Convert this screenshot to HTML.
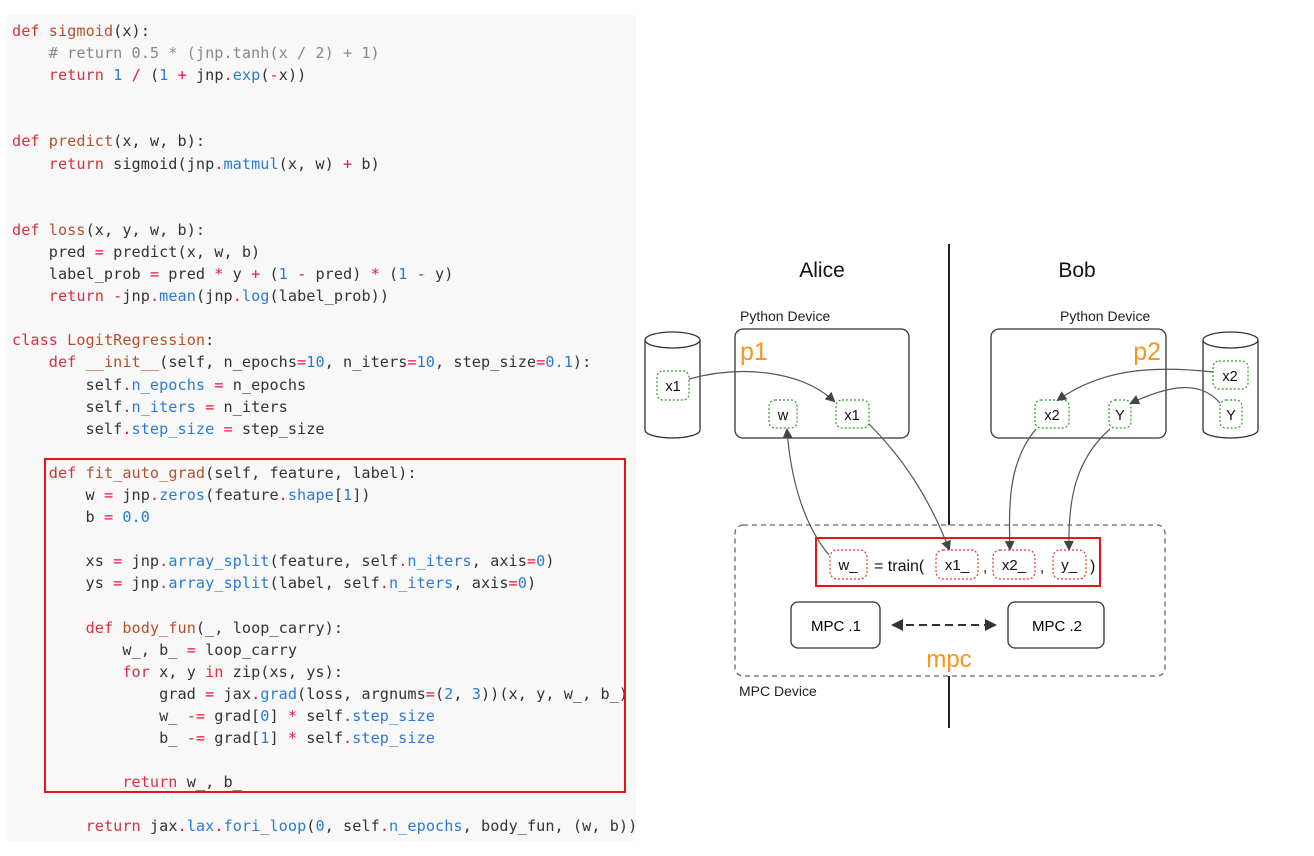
<!DOCTYPE html>
<html><head><meta charset="utf-8"><style>
body{margin:0;width:1314px;height:856px;background:#fff;overflow:hidden;position:relative;font-family:"Liberation Sans",sans-serif}
#code{position:absolute;left:6px;top:15px;width:630px;height:826px;background:#f8f8f8}
pre{position:absolute;left:12px;top:20px;margin:0;font-family:"DejaVu Sans Mono","Liberation Mono",monospace;font-size:15.2px;line-height:22.1px;color:#333;letter-spacing:0.05px}
.k{color:#d7303f}.f{color:#b4512a}.b{color:#2b7bd4}.o{color:#e8163a}.c{color:#888}
#rb{position:absolute;left:44px;top:458px;width:578px;height:331px;border:2px solid #e8141c}
</style></head><body>
<div id="code"></div>
<pre><span class="k">def</span> <span class="f">sigmoid</span>(x):
    <span class="c"># return 0.5 * (jnp.tanh(x / 2) + 1)</span>
    <span class="k">return</span> <span class="b">1</span> <span class="o">/</span> (<span class="b">1</span> <span class="o">+</span> jnp<span class="o">.</span><span class="b">exp</span>(<span class="o">-</span>x))


<span class="k">def</span> <span class="f">predict</span>(x, w, b):
    <span class="k">return</span> sigmoid(jnp<span class="o">.</span><span class="b">matmul</span>(x, w) <span class="o">+</span> b)


<span class="k">def</span> <span class="f">loss</span>(x, y, w, b):
    pred <span class="o">=</span> predict(x, w, b)
    label_prob <span class="o">=</span> pred <span class="o">*</span> y <span class="o">+</span> (<span class="b">1</span> <span class="o">-</span> pred) <span class="o">*</span> (<span class="b">1</span> <span class="o">-</span> y)
    <span class="k">return</span> <span class="o">-</span>jnp<span class="o">.</span><span class="b">mean</span>(jnp<span class="o">.</span><span class="b">log</span>(label_prob))

<span class="k">class</span> <span class="f">LogitRegression</span>:
    <span class="k">def</span> <span class="f">__init__</span>(self, n_epochs<span class="o">=</span><span class="b">10</span>, n_iters<span class="o">=</span><span class="b">10</span>, step_size<span class="o">=</span><span class="b">0.1</span>):
        self<span class="o">.</span><span class="b">n_epochs</span> <span class="o">=</span> n_epochs
        self<span class="o">.</span><span class="b">n_iters</span> <span class="o">=</span> n_iters
        self<span class="o">.</span><span class="b">step_size</span> <span class="o">=</span> step_size

    <span class="k">def</span> <span class="f">fit_auto_grad</span>(self, feature, label):
        w <span class="o">=</span> jnp<span class="o">.</span><span class="b">zeros</span>(feature<span class="o">.</span><span class="b">shape</span>[<span class="b">1</span>])
        b <span class="o">=</span> <span class="b">0.0</span>

        xs <span class="o">=</span> jnp<span class="o">.</span><span class="b">array_split</span>(feature, self<span class="o">.</span><span class="b">n_iters</span>, axis<span class="o">=</span><span class="b">0</span>)
        ys <span class="o">=</span> jnp<span class="o">.</span><span class="b">array_split</span>(label, self<span class="o">.</span><span class="b">n_iters</span>, axis<span class="o">=</span><span class="b">0</span>)

        <span class="k">def</span> <span class="f">body_fun</span>(_, loop_carry):
            w_, b_ <span class="o">=</span> loop_carry
            <span class="k">for</span> x, y <span class="k">in</span> zip(xs, ys):
                grad <span class="o">=</span> jax<span class="o">.</span><span class="b">grad</span>(loss, argnums<span class="o">=</span>(<span class="b">2</span>, <span class="b">3</span>))(x, y, w_, b_)
                w_ <span class="o">-=</span> grad[<span class="b">0</span>] <span class="o">*</span> self<span class="o">.</span><span class="b">step_size</span>
                b_ <span class="o">-=</span> grad[<span class="b">1</span>] <span class="o">*</span> self<span class="o">.</span><span class="b">step_size</span>

            <span class="k">return</span> w_, b_

        <span class="k">return</span> jax<span class="o">.</span><span class="b">lax</span><span class="o">.</span><span class="b">fori_loop</span>(<span class="b">0</span>, self<span class="o">.</span><span class="b">n_epochs</span>, body_fun, (w, b))</pre>
<div id="rb"></div>
<div style="position:absolute;left:636px;top:0;width:678px;height:856px;background:#fff"></div>

<svg width="1314" height="856" style="position:absolute;left:0;top:0" font-family="Liberation Sans, sans-serif">
<defs><marker id="a" markerWidth="10" markerHeight="10" refX="8" refY="5" orient="auto" markerUnits="userSpaceOnUse"><path d="M0,0 L10,5 L0,10 z" fill="#444"/></marker>
<marker id="a2" markerWidth="12" markerHeight="12" refX="10" refY="6" orient="auto-start-reverse" markerUnits="userSpaceOnUse"><path d="M0,0 L12,6 L0,12 z" fill="#333"/></marker></defs>
<line x1="949" y1="244" x2="949" y2="728" stroke="#222" stroke-width="2"/>
<rect x="735" y="525" width="430" height="151" rx="8" fill="#fff" stroke="#666" stroke-width="1.3" stroke-dasharray="5,4"/>
<text x="822" y="277" font-size="21" text-anchor="middle" fill="#111">Alice</text>
<text x="1077" y="277" font-size="21" text-anchor="middle" fill="#111">Bob</text>
<text x="740" y="321" font-size="14" fill="#222">Python Device</text>
<text x="1060" y="321" font-size="14" fill="#222">Python Device</text>
<rect x="735" y="329" width="174" height="109" rx="8" fill="none" stroke="#333" stroke-width="1.3"/>
<rect x="991" y="329" width="175" height="109" rx="8" fill="none" stroke="#333" stroke-width="1.3"/>
<text x="740" y="360" font-size="25" fill="#f7931e">p1</text>
<text x="1161" y="360" font-size="25" fill="#f7931e" text-anchor="end">p2</text>
<g fill="#fff" stroke="#333" stroke-width="1.3">
<path d="M645,340 L645,430 A27.5,8 0 0 0 700,430 L700,340"/><ellipse cx="672.5" cy="340" rx="27.5" ry="8"/>
<path d="M1203,340 L1203,430 A27.5,8 0 0 0 1258,430 L1258,340"/><ellipse cx="1230.5" cy="340" rx="27.5" ry="8"/>
</g>
<g fill="#fff" stroke="#2a9d2a" stroke-width="1.2" stroke-dasharray="2,2">
<rect x="657" y="371" width="32" height="29" rx="6"/>
<rect x="769" y="400" width="28" height="28" rx="6"/>
<rect x="836" y="400" width="33" height="28" rx="6"/>
<rect x="1035" y="400" width="34" height="28" rx="6"/>
<rect x="1109" y="400" width="22" height="28" rx="6"/>
<rect x="1213" y="361" width="35" height="28" rx="6"/>
<rect x="1220" y="400" width="22" height="28" rx="6"/>
</g>
<g font-size="14.5" text-anchor="middle" fill="#111">
<text x="673" y="391">x1</text><text x="783" y="420">w</text><text x="852" y="420">x1</text>
<text x="1052" y="420">x2</text><text x="1120" y="420">Y</text><text x="1230" y="381">x2</text><text x="1231" y="420">Y</text>
</g>
<g fill="none" stroke="#555" stroke-width="1.2" marker-end="url(#a)">
<path d="M689,379 C740,365 800,370 834,401"/>
<path d="M1213,372 C1150,365 1100,370 1058,400"/>
<path d="M1220,403 C1200,380 1170,385 1131,403"/>
<path d="M829,555 C800,520 790,470 787,430"/>
<path d="M869,424 C905,460 930,500 949,549"/>
<path d="M1036,429 C1010,460 1008,500 1010,549"/>
<path d="M1110,429 C1075,460 1068,500 1069,549"/>
</g>
<rect x="816" y="538" width="284" height="48" fill="none" stroke="#e8141c" stroke-width="2"/>
<g fill="#fff" stroke="#f03030" stroke-width="1.2" stroke-dasharray="2,2">
<rect x="830" y="550" width="37" height="29" rx="7"/>
<rect x="936" y="550" width="42" height="29" rx="7"/>
<rect x="993" y="550" width="42" height="29" rx="7"/>
<rect x="1053" y="550" width="33" height="29" rx="7"/>
</g>
<g font-size="15" fill="#111">
<text x="848" y="570" text-anchor="middle">w_</text>
<text x="874" y="571" font-size="16">= train(</text>
<text x="957" y="570" text-anchor="middle">x1_</text>
<text x="983" y="572">,</text>
<text x="1014" y="570" text-anchor="middle">x2_</text>
<text x="1040" y="572">,</text>
<text x="1069" y="570" text-anchor="middle">y_</text>
<text x="1090" y="571" font-size="16">)</text>
</g>
<rect x="791" y="602" width="89" height="46" rx="7" fill="#fff" stroke="#333" stroke-width="1.3"/>
<rect x="1008" y="602" width="96" height="46" rx="7" fill="#fff" stroke="#333" stroke-width="1.3"/>
<text x="836" y="631" font-size="15" text-anchor="middle">MPC .1</text>
<text x="1057" y="631" font-size="15" text-anchor="middle">MPC .2</text>
<line x1="893" y1="625" x2="995" y2="625" stroke="#333" stroke-width="2" stroke-dasharray="8,5" marker-start="url(#a2)" marker-end="url(#a2)"/>
<text x="949" y="667" font-size="24" fill="#f7931e" text-anchor="middle">mpc</text>
<text x="739" y="696" font-size="14" fill="#222">MPC Device</text>
</svg>
</body></html>
